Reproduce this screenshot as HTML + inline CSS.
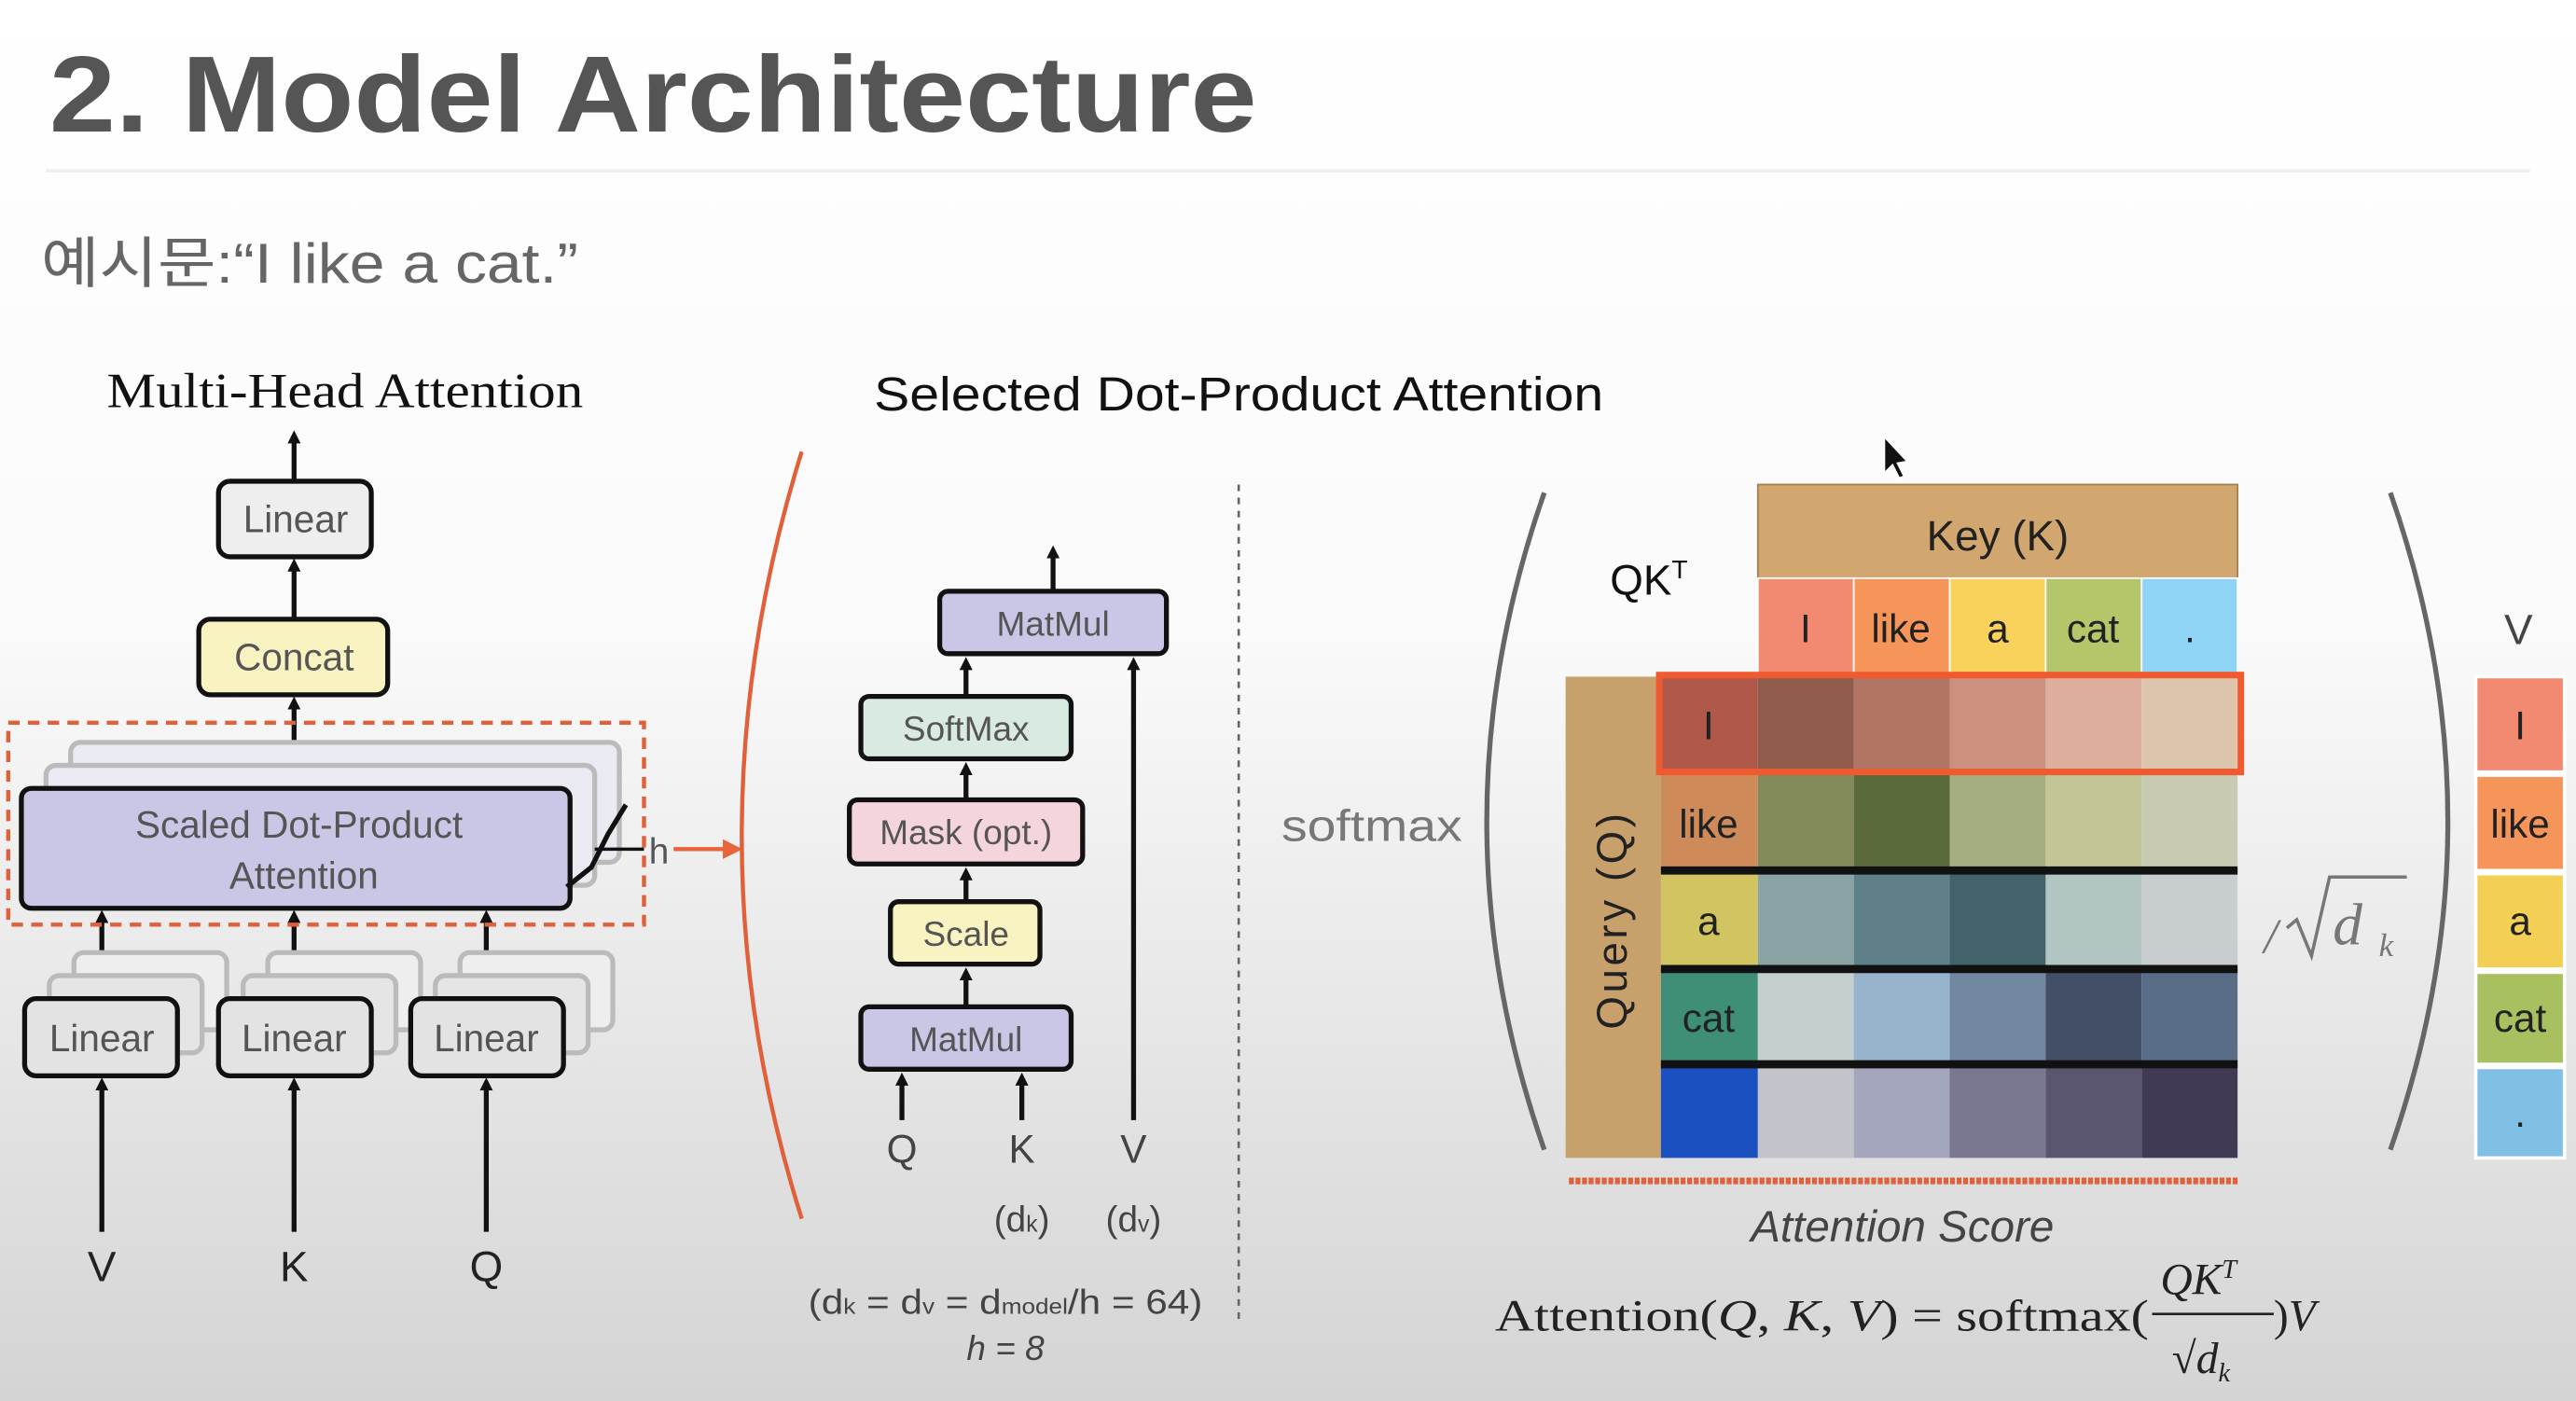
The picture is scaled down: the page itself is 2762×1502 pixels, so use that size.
<!DOCTYPE html>
<html><head><meta charset="utf-8"><style>
html,body{margin:0;padding:0;}
body{width:2762px;height:1502px;overflow:hidden;background:linear-gradient(#fff 0%,#fafafa 45%,#d4d4d4 100%);}
svg{display:block}
.s{font-family:"Liberation Sans","DejaVu Sans",sans-serif}
.r{font-family:"Liberation Serif",serif}
</style></head><body>
<svg width="2762" height="1502" viewBox="0 0 1568 853" preserveAspectRatio="none" xmlns="http://www.w3.org/2000/svg">
<defs><marker id="a" markerWidth="8" markerHeight="8" refX="4" refY="4" orient="auto" markerUnits="userSpaceOnUse"><path d="M0,0 L8,4 L0,8 z" fill="#111"/></marker>
<marker id="o" markerWidth="12" markerHeight="12" refX="8" refY="6" orient="auto" markerUnits="userSpaceOnUse"><path d="M0,0 L12,6 L0,12 z" fill="#e8643a"/></marker></defs>
<text x="30" y="80" class="s" font-size="66" font-weight="bold" fill="#555" textLength="735" lengthAdjust="spacingAndGlyphs">2. Model Architecture</text>
<line x1="28" y1="104" x2="1540" y2="104" stroke="#eee" stroke-width="2"/>
<text x="25" y="172" font-family="'Liberation Sans','Noto Sans CJK KR',sans-serif" font-size="34" fill="#666" textLength="327" lengthAdjust="spacingAndGlyphs">예시문:“I like a cat.”</text>
<text x="65" y="248" class="r" font-size="30" fill="#111" textLength="290" lengthAdjust="spacingAndGlyphs">Multi-Head Attention</text>
<text x="532" y="250" class="s" font-size="29" fill="#111" textLength="444" lengthAdjust="spacingAndGlyphs">Selected Dot-Product Attention</text>
<!-- left diagram -->
<g stroke="#111" stroke-width="3" fill="none">
<line x1="179" y1="293" x2="179" y2="266" marker-end="url(#a)"/>
<line x1="179" y1="377" x2="179" y2="344" marker-end="url(#a)"/>
<line x1="179" y1="480" x2="179" y2="428" marker-end="url(#a)"/>
<line x1="62" y1="750" x2="62" y2="660" marker-end="url(#a)"/>
<line x1="179" y1="750" x2="179" y2="660" marker-end="url(#a)"/>
<line x1="296" y1="750" x2="296" y2="660" marker-end="url(#a)"/>
<line x1="62" y1="608" x2="62" y2="558" marker-end="url(#a)"/>
<line x1="179" y1="608" x2="179" y2="558" marker-end="url(#a)"/>
<line x1="296" y1="608" x2="296" y2="558" marker-end="url(#a)"/>
</g>
<g stroke="#bbb" stroke-width="3" fill="#eaeaf2">
<rect x="43" y="452" width="334" height="73" rx="6"/>
<rect x="28" y="466" width="334" height="73" rx="6"/>
<rect x="45" y="580" width="93" height="47" rx="6" fill="#eee"/><rect x="163" y="580" width="93" height="47" rx="6" fill="#eee"/><rect x="280" y="580" width="93" height="47" rx="6" fill="#eee"/>
<rect x="30" y="594" width="93" height="47" rx="6" fill="#e5e5e5"/><rect x="148" y="594" width="93" height="47" rx="6" fill="#e5e5e5"/><rect x="265" y="594" width="93" height="47" rx="6" fill="#e5e5e5"/>
</g>
<g stroke="#111" stroke-width="3">
<rect x="133" y="293" width="93" height="46" rx="7" fill="#eee"/>
<rect x="121" y="377" width="115" height="46" rx="7" fill="#f8f3c0"/>
<rect x="13" y="480" width="334" height="73" rx="6" fill="#c9c7e5"/>
<rect x="15" y="608" width="93" height="47" rx="7" fill="#e3e3e3"/>
<rect x="133" y="608" width="93" height="47" rx="7" fill="#e3e3e3"/>
<rect x="250" y="608" width="93" height="47" rx="7" fill="#e3e3e3"/>
</g>
<path d="M381,490 L370,508 L360,528 L345,540" stroke="#111" stroke-width="3" fill="none"/>
<rect x="5" y="440" width="387" height="123" fill="none" stroke="#e0603a" stroke-width="2.5" stroke-dasharray="7,5"/>
<g class="s" fill="#555" font-size="23" text-anchor="middle">
<text x="180" y="324">Linear</text><text x="179" y="408">Concat</text>
<text x="182" y="510">Scaled Dot-Product</text><text x="185" y="541">Attention</text>
<text x="62" y="640">Linear</text><text x="179" y="640">Linear</text><text x="296" y="640">Linear</text>
</g>
<g class="s" fill="#222" font-size="26" text-anchor="middle"><text x="62" y="780">V</text><text x="179" y="780">K</text><text x="296" y="780">Q</text></g>
<line x1="362" y1="517" x2="392" y2="517" stroke="#111" stroke-width="2"/>
<text x="395" y="526" class="s" font-size="22" fill="#555">h</text>
<line x1="410" y1="517" x2="448" y2="517" stroke="#e8643a" stroke-width="2.5" marker-end="url(#o)"/>
<path d="M488,275 Q415,510 488,742" stroke="#e0603a" stroke-width="2.5" fill="none"/>
<!-- middle -->
<g stroke="#111" stroke-width="3" fill="none">
<line x1="641" y1="360" x2="641" y2="336" marker-end="url(#a)"/>
<line x1="588" y1="424" x2="588" y2="404" marker-end="url(#a)"/>
<line x1="588" y1="487" x2="588" y2="468" marker-end="url(#a)"/>
<line x1="588" y1="549" x2="588" y2="532" marker-end="url(#a)"/>
<line x1="588" y1="613" x2="588" y2="593" marker-end="url(#a)"/>
<line x1="549" y1="682" x2="549" y2="657" marker-end="url(#a)"/>
<line x1="622" y1="682" x2="622" y2="657" marker-end="url(#a)"/>
<line x1="690" y1="682" x2="690" y2="404" marker-end="url(#a)"/>
</g>
<g stroke="#111" stroke-width="3">
<rect x="572" y="360" width="138" height="38" rx="5" fill="#c9c7e5"/>
<rect x="524" y="424" width="128" height="38" rx="5" fill="#d9ebe0"/>
<rect x="517" y="487" width="142" height="39" rx="5" fill="#f5d5dc"/>
<rect x="542" y="549" width="91" height="38" rx="5" fill="#f8f3c0"/>
<rect x="524" y="613" width="128" height="38" rx="5" fill="#c9c7e5"/>
</g>
<g class="s" fill="#555" font-size="21" text-anchor="middle">
<text x="641" y="387">MatMul</text><text x="588" y="451">SoftMax</text><text x="588" y="514">Mask (opt.)</text><text x="588" y="576">Scale</text><text x="588" y="640">MatMul</text>
</g>
<g class="s" fill="#444" font-size="24" text-anchor="middle"><text x="549" y="708">Q</text><text x="622" y="708">K</text><text x="690" y="708">V</text>
<text x="622" y="750" font-size="22">(d<tspan font-size="14">k</tspan>)</text><text x="690" y="750" font-size="22">(d<tspan font-size="14">v</tspan>)</text>
<text x="612" y="800" font-size="21" textLength="240" lengthAdjust="spacingAndGlyphs">(d<tspan font-size="13">k</tspan> = d<tspan font-size="13">v</tspan> = d<tspan font-size="13">model</tspan>/h = 64)</text>
<text x="612" y="828" font-size="21" font-style="italic">h = 8</text></g>
<line x1="754" y1="295" x2="754" y2="805" stroke="#666" stroke-width="1.5" stroke-dasharray="4,4"/>
<!-- right -->
<text x="780" y="512" class="s" font-size="27" fill="#777" textLength="110" lengthAdjust="spacingAndGlyphs">softmax</text>
<path d="M940,300 Q870,500 940,700" stroke="#666" stroke-width="3" fill="none"/>
<path d="M1455,300 Q1525,500 1455,700" stroke="#666" stroke-width="3" fill="none"/>
<text x="980" y="362" class="s" font-size="26" fill="#111">QK<tspan font-size="16" dy="-10">T</tspan></text>
<rect x="1070" y="295" width="292" height="57" fill="#d2a76f" stroke="#a08050" stroke-width="1"/>
<text x="1216" y="335" class="s" font-size="26" fill="#222" text-anchor="middle">Key (K)</text>
<g stroke="#fff" stroke-width="1">
<rect x="1070" y="352" width="58.4" height="58" fill="#f28a72"/><rect x="1128.4" y="352" width="58.4" height="58" fill="#f5955a"/><rect x="1186.8" y="352" width="58.4" height="58" fill="#f8d25a"/><rect x="1245.2" y="352" width="58.4" height="58" fill="#b3c66a"/><rect x="1303.6" y="352" width="58.4" height="58" fill="#8fd3f5"/>
</g>
<g class="s" font-size="24" fill="#222" text-anchor="middle"><text x="1099" y="391">I</text><text x="1157" y="391">like</text><text x="1216" y="391">a</text><text x="1274" y="391">cat</text><text x="1333" y="391">.</text></g>
<rect x="953" y="412" width="58" height="293" fill="#c8a06c"/>
<text transform="translate(990,560) rotate(-90)" class="s" font-size="26" fill="#222" text-anchor="middle" letter-spacing="2">Query (Q)</text>
<g>
<rect x="1011" y="412" width="59" height="58" fill="#b0584a"/><rect x="1070" y="412" width="58.4" height="58" fill="#8f5b4a"/><rect x="1128.4" y="412" width="58.4" height="58" fill="#b07563"/><rect x="1186.8" y="412" width="58.4" height="58" fill="#cc907e"/><rect x="1245.2" y="412" width="58.4" height="58" fill="#ddae9c"/><rect x="1303.6" y="412" width="58.4" height="58" fill="#ddc4ad"/>
<rect x="1011" y="470" width="59" height="60" fill="#cf8a5a"/><rect x="1070" y="470" width="58.4" height="60" fill="#838a5a"/><rect x="1128.4" y="470" width="58.4" height="60" fill="#5a6a3a"/><rect x="1186.8" y="470" width="58.4" height="60" fill="#a5ae80"/><rect x="1245.2" y="470" width="58.4" height="60" fill="#c4c596"/><rect x="1303.6" y="470" width="58.4" height="60" fill="#c8cab2"/>
<rect x="1011" y="530" width="59" height="60" fill="#d2c460"/><rect x="1070" y="530" width="58.4" height="60" fill="#8aa3a5"/><rect x="1128.4" y="530" width="58.4" height="60" fill="#5f8088"/><rect x="1186.8" y="530" width="58.4" height="60" fill="#42636a"/><rect x="1245.2" y="530" width="58.4" height="60" fill="#b2c5c3"/><rect x="1303.6" y="530" width="58.4" height="60" fill="#c8cdd0"/>
<rect x="1011" y="590" width="59" height="58" fill="#3f8f78"/><rect x="1070" y="590" width="58.4" height="58" fill="#c5cfcf"/><rect x="1128.4" y="590" width="58.4" height="58" fill="#98b4cc"/><rect x="1186.8" y="590" width="58.4" height="58" fill="#7288a0"/><rect x="1245.2" y="590" width="58.4" height="58" fill="#434f66"/><rect x="1303.6" y="590" width="58.4" height="58" fill="#5a6d86"/>
<rect x="1011" y="648" width="59" height="57" fill="#1a50c0"/><rect x="1070" y="648" width="58.4" height="57" fill="#c3c3cc"/><rect x="1128.4" y="648" width="58.4" height="57" fill="#a3a6bd"/><rect x="1186.8" y="648" width="58.4" height="57" fill="#7a7890"/><rect x="1245.2" y="648" width="58.4" height="57" fill="#5a5670"/><rect x="1303.6" y="648" width="58.4" height="57" fill="#403a55"/>
</g>
<g stroke="#111" stroke-width="5"><line x1="1011" y1="530" x2="1362" y2="530"/><line x1="1011" y1="590" x2="1362" y2="590"/><line x1="1011" y1="648" x2="1362" y2="648"/></g>
<rect x="1010" y="411" width="354" height="59" fill="none" stroke="#f05a30" stroke-width="4"/>
<g class="s" font-size="24" fill="#222" text-anchor="middle"><text x="1040" y="450">I</text><text x="1040" y="510">like</text><text x="1040" y="569">a</text><text x="1040" y="628">cat</text></g>
<line x1="955" y1="719" x2="1362" y2="719" stroke="#e0603a" stroke-width="4" stroke-dasharray="3,1"/>
<text x="1158" y="756" class="s" font-size="27" font-style="italic" fill="#444" text-anchor="middle">Attention Score</text>
<g fill="#777" class="r" font-style="italic">
<text x="1378" y="580" font-size="30">/</text>
<path d="M1392,565 L1398,560 L1407,582 L1418,534 L1465,534" stroke="#777" stroke-width="2" fill="none"/>
<text x="1420" y="575" font-size="36">d</text>
<text x="1448" y="582" font-size="20">k</text>
</g>
<text x="1533" y="392" class="s" font-size="26" fill="#444" text-anchor="middle">V</text>
<g stroke="#fff" stroke-width="2">
<rect x="1507" y="412" width="54" height="58" fill="#f28a72"/><rect x="1507" y="472" width="54" height="58" fill="#f5955a"/><rect x="1507" y="532" width="54" height="58" fill="#f3cf55"/><rect x="1507" y="592" width="54" height="56" fill="#a8c060"/><rect x="1507" y="650" width="54" height="55" fill="#80c0e5"/>
</g>
<g class="s" font-size="24" fill="#222" text-anchor="middle"><text x="1534" y="450">I</text><text x="1534" y="510">like</text><text x="1534" y="569">a</text><text x="1534" y="628">cat</text><text x="1534" y="686">.</text></g>
<g class="r" font-size="27" fill="#222">
<text x="910" y="810" textLength="398" lengthAdjust="spacingAndGlyphs">Attention(<tspan font-style="italic">Q</tspan>, <tspan font-style="italic">K</tspan>, <tspan font-style="italic">V</tspan>) = softmax(</text>
<text x="1315" y="788" font-style="italic">QK<tspan font-size="16" dy="-10">T</tspan></text>
<line x1="1310" y1="800" x2="1384" y2="800" stroke="#222" stroke-width="1.5"/>
<text x="1322" y="836" font-style="italic">√d<tspan font-size="16" dy="5">k</tspan></text>
<text x="1384" y="810">)<tspan font-style="italic">V</tspan></text>
</g>
<path d="M1147,266 L1147,288 L1152,283 L1156,291 L1159,290 L1155,282 L1161,281 z" fill="#111" stroke="#fff" stroke-width="1"/>
</svg>
</body></html>
